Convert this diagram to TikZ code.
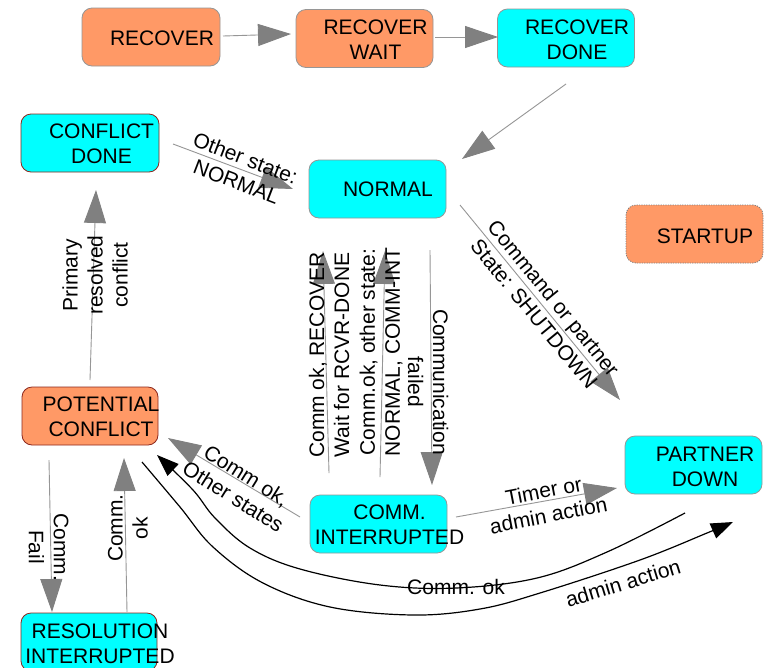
\documentclass[tikz,border=0pt]{standalone}
\usepackage{fontspec}
\setmainfont{Liberation Sans}
\usetikzlibrary{arrows.meta}
\definecolor{boxorange}{RGB}{255,153,102}
\definecolor{boxcyan}{RGB}{0,255,255}
\definecolor{boxgray}{RGB}{150,150,150}
\definecolor{boxred}{RGB}{140,40,30}
\definecolor{linegray}{RGB}{150,150,150}
\definecolor{headgray}{RGB}{128,128,128}
\begin{document}
\begin{tikzpicture}[x=1pt,y=-1pt,
  every node/.style={font=\fontsize{21}{25}\selectfont, inner sep=0pt, align=center},
  statebox/.style={rounded corners=10pt, minimum width=137pt, minimum height=58pt, line width=0.8pt, draw=boxgray},
  orangebox/.style={statebox, fill=boxorange},
  cyanbox/.style={statebox, fill=boxcyan},
  redrim/.style={draw=boxred},
  trans/.style={draw=linegray, line width=0.9pt, -{Triangle[length=33pt,width=22pt,color=headgray]}},
  curvetrans/.style={draw=black, line width=1.2pt, -{Triangle[length=22pt,width=16pt]}},
]
\useasboundingbox (0,0) rectangle (765,667);
\fill[white] (0,0) rectangle (765,667);

% boxes
\node[orangebox, minimum width=138pt] (recover) at (151,37) {};
\node[orangebox] (recoverwait) at (364.5,38.5) {};
\node[cyanbox] (recoverdone) at (566,38) {};
\node[cyanbox, redrim, minimum width=138pt] (conflictdone) at (90,143) {};
\node[cyanbox] (normal) at (377.5,189) {};
\node[orangebox, draw=gray, dash pattern=on 1.2pt off 1.2pt] (startup) at (694.5,234) {};
\node[cyanbox] (partnerdown) at (693.5,465) {};
\node[cyanbox] (comm) at (378.5,524) {};
\node[orangebox, redrim, minimum width=136pt] (potential) at (90,416) {};
\node[cyanbox, redrim, minimum width=136pt] (resolution) at (89,642) {};

% box texts
\node (recovertxt) at (162,38) {RECOVER};
\node (recoverwaittxt) at (375.5,40) {RECOVER\\WAIT};
\node (recoverdonetxt) at (577,40) {RECOVER\\DONE};
\node (conflictdonetxt) at (101.5,144) {CONFLICT\\DONE};
\node (normaltxt) at (388,189.5) {NORMAL};
\node (startuptxt) at (705,236) {STARTUP};
\node (partnerdowntxt) at (705,467) {PARTNER\\DOWN};
\node (commtxt) at (389.5,525) {COMM.\\INTERRUPTED};
\node (potentialtxt) at (101,417) {POTENTIAL\\CONFLICT};
\node (resolutiontxt) at (100,643.5) {RESOLUTION\\INTERRUPTED};

% straight transitions
\draw[trans] ([shift={(72,-1)}]recover.center) -- ([shift={(-73.5,-4.5)}]recoverwait.center);
\draw[trans] ([shift={(70.5,-1.5)}]recoverwait.center) -- ([shift={(-68,-1)}]recoverdone.center);
\draw[trans] ([shift={(0,46)}]recoverdone.center) -- ([shift={(84.5,-30)}]normal.center);
\draw[trans] ([shift={(83,1)}]conflictdone.center) -- ([shift={(-84.5,0)}]normal.center);
\draw[trans] ([shift={(0,-36)}]potential.center) -- ([shift={(6,47)}]conflictdone.center);
\draw[trans] ([shift={(52.5,61)}]normal.center) -- ([shift={(53.5,-39)}]comm.center);
\draw[trans] ([shift={(-49.5,-51)}]comm.center) -- ([shift={(-54.5,62)}]normal.center);
\draw[trans] ([shift={(1.5,-47)}]comm.center) -- ([shift={(7.5,62)}]normal.center);
\draw[trans] ([shift={(82.5,16)}]normal.center) -- ([shift={(-73.5,-65)}]partnerdown.center);
\draw[trans] ([shift={(77.5,-7)}]comm.center) -- ([shift={(-76.5,23)}]partnerdown.center);
\draw[trans] ([shift={(-78.5,-7)}]comm.center) -- ([shift={(78,22)}]potential.center);
\draw[trans] ([shift={(-41,44)}]potential.center) -- ([shift={(-37,-30)}]resolution.center);
\draw[trans] ([shift={(38,-30)}]resolution.center) -- ([shift={(34,42)}]potential.center);

% curved transitions
\draw[curvetrans] plot[smooth, tension=0.6] coordinates {([shift={(-8.5,48)}]partnerdown.center) (607,552) (537,578) (456,588) (380,585) (300,569) (250,548) (215,518) (193,490) ([shift={(67,39)}]potential.center)};
\draw[curvetrans] plot[smooth, tension=0.6] coordinates {([shift={(52,46)}]potential.center) (180,507) (213,547) (263,583) (330,607) (413,615) (480,609) (540,593) (640,560) (707,533) ([shift={(39.5,57)}]partnerdown.center)};

% labels
\node[rotate=-21] (lblother) at (241,170) {Other state:\\NORMAL};
\node[rotate=90] (lblprimary) at (95,275) {Primary\\resolved\\conflict};
\node[rotate=-90] (lblcommfailed) at (428,382) {Communication\\failed};
\node[rotate=90] (lblrecover) at (329,355) {Comm ok, RECOVER\\Wait for RCVR-DONE};
\node[rotate=90] (lblotherstate) at (381,352) {Comm.ok, other state:\\NORMAL, COMM-INT};
\node[rotate=-50.6] (lblshutdown) at (544,306) {Command or partner\\State: SHUTDOWN};
\node[rotate=11] (lbltimer) at (546,503) {Timer or\\admin action};
\node[rotate=-32] (lblcommok) at (240,486) {Comm ok,\\Other states};
\node (lblcurveok) at (456,587) {Comm. ok};
\node[rotate=17] (lbladmin) at (623,583) {admin action};
\node[rotate=-90] (lblfail) at (48.5,547) {Comm.\\Fail};
\node[rotate=90] (lblresok) at (128,528) {Comm.\\ok};
\end{tikzpicture}
\end{document}
